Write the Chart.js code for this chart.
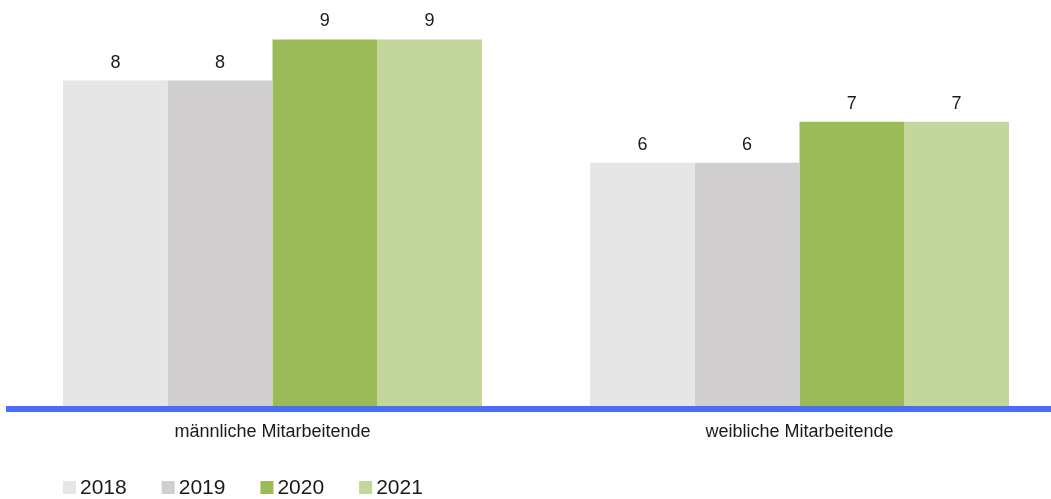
<!DOCTYPE html>
<html>
<head>
<meta charset="utf-8">
<script src="https://cdn.jsdelivr.net/npm/chart.js@4/dist/chart.umd.min.js"></script>
<style>
  html, body { margin: 0; padding: 0; background: #fff; overflow: hidden; }
  #wrap { position: relative; width: 1063px; height: 499px; }
</style>
</head>
<body>
<div id="wrap"><canvas id="chart"></canvas></div>
<script>
// === Data ===
const categories = ["männliche Mitarbeitende", "weibliche Mitarbeitende"];
const years = ["2018", "2019", "2020", "2021"];
const values2018 = [8, 6];
const values2019 = [8, 6];
const values2020 = [9, 7];
const values2021 = [9, 7];
const colors = ["#E7E6E6", "#D0CECE", "#9BBB59", "#C3D69B"];

const FONT = "'Liberation Sans', Arial, sans-serif";

// === Value labels above bars ===
const barValues = {
  id: 'barValues',
  afterDatasetsDraw(chart) {
    const ctx = chart.ctx;
    ctx.save();
    ctx.font = `18px ${FONT}`;
    ctx.fillStyle = '#1a1a1a';
    ctx.textAlign = 'center';
    ctx.textBaseline = 'alphabetic';
    chart.data.datasets.forEach((ds, i) => {
      chart.getDatasetMeta(i).data.forEach((bar, j) => {
        ctx.fillText(ds.data[j], bar.x, bar.y - 13);
      });
    });
    ctx.restore();
  }
};

// === Legend bottom-left ===
const legendRow = {
  id: 'legendRow',
  afterDraw(chart) {
    const ctx = chart.ctx;
    ctx.save();
    ctx.font = `21px ${FONT}`;
    ctx.textBaseline = 'middle';
    ctx.textAlign = 'left';
    let x = chart.chartArea.left + 54;
    const y = 487;
    chart.data.datasets.forEach(ds => {
      ctx.fillStyle = ds.backgroundColor;
      ctx.fillRect(x, y - 6, 13, 13);
      ctx.fillStyle = '#1a1a1a';
      ctx.fillText(ds.label, x + 17, y + 1);
      x += 17 + ctx.measureText(ds.label).width + 35;
    });
    ctx.restore();
  }
};

const allValues = [values2018, values2019, values2020, values2021];

new Chart(document.getElementById('chart'), {
  type: 'bar',
  data: {
    labels: categories,
    datasets: years.map((y, i) => ({
      label: y,
      data: allValues[i],
      backgroundColor: colors[i],
      borderWidth: 0,
      categoryPercentage: 0.795,
      barPercentage: 1.0
    }))
  },
  options: {
    responsive: true,
    maintainAspectRatio: false,
    animation: false,
    layout: { padding: { left: 9, right: 0, top: 0, bottom: 44 } },
    plugins: {
      legend: { display: false },
      tooltip: { enabled: false }
    },
    scales: {
      x: {
        grid: { display: false, drawTicks: false },
        border: { display: true, color: '#4A6CF6', width: 6, z: 1 },
        ticks: {
          padding: 12,
          color: '#1a1a1a',
          font: { family: FONT, size: 18 }
        }
      },
      y: {
        display: false,
        min: 0,
        max: 9.96
      }
    }
  },
  plugins: [barValues, legendRow]
});
</script>
</body>
</html>
